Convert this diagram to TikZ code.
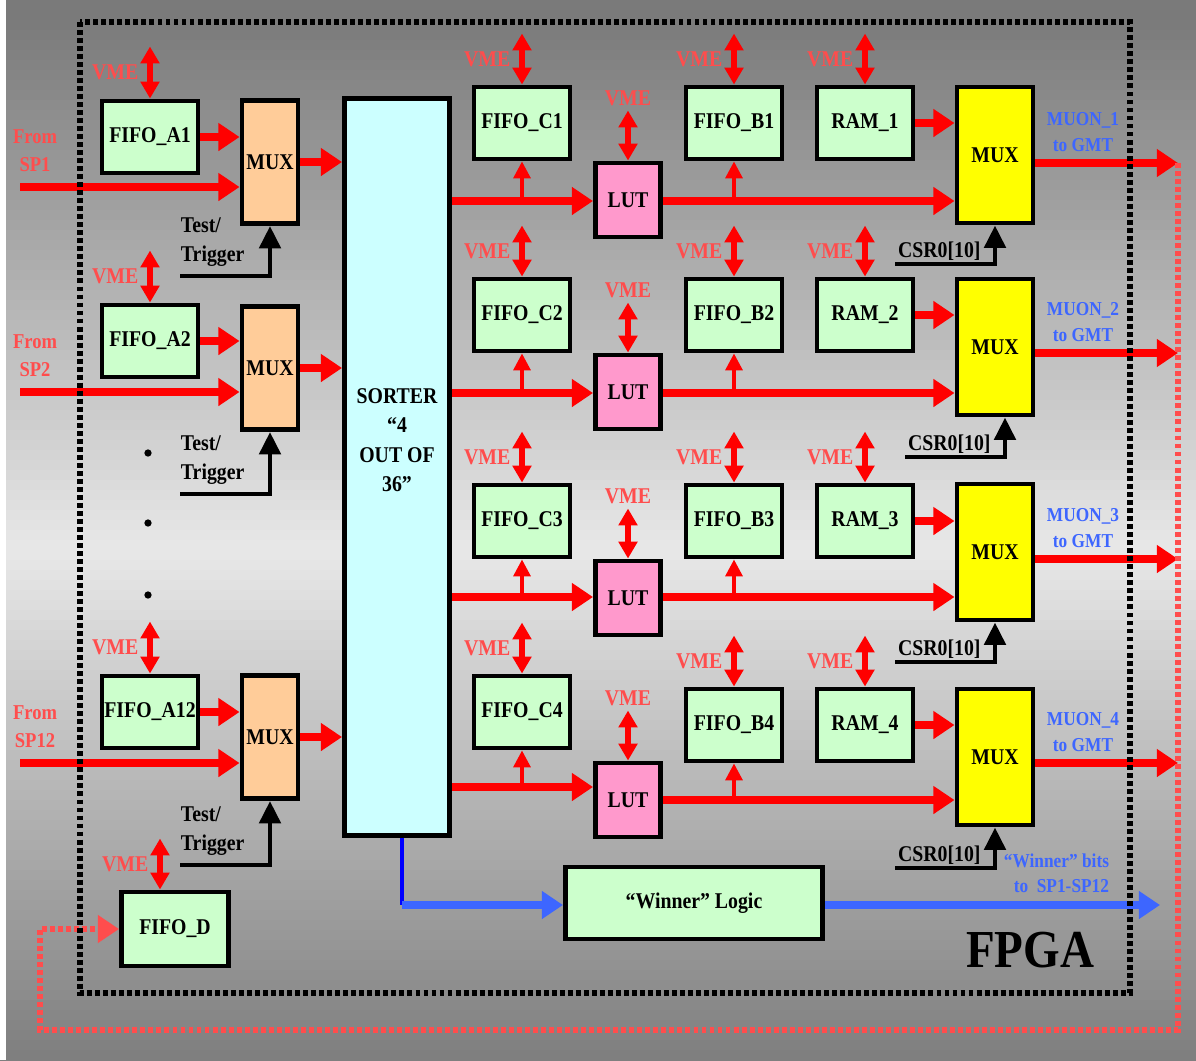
\documentclass[tikz,border=0pt]{standalone}
\usepackage{fontspec}
\setmainfont{Liberation Serif}[FakeStretch=0.88]
\usepackage{tikz}
\usetikzlibrary{arrows.meta}
\definecolor{bgdark}{HTML}{7A7A7A}
\definecolor{bglight}{HTML}{E8E8E8}
\definecolor{fifogreen}{HTML}{CCFFCC}
\definecolor{muxorange}{HTML}{FFCC99}
\definecolor{sortcyan}{HTML}{CCFFFF}
\definecolor{lutpink}{HTML}{FF99CC}
\definecolor{muxyellow}{HTML}{FFFF00}
\definecolor{vmered}{HTML}{FF4D4D}
\definecolor{gmtblue}{HTML}{3D66FF}
\definecolor{sortblue}{HTML}{0000FF}

\tikzset{
  blk/.style={draw,line width=3.5pt,inner sep=0pt,align=center,font=\bfseries\fontsize{16}{21}\selectfont},
  fifo/.style={blk,fill=fifogreen,minimum width=2.4cm,minimum height=1.8cm},
  muxa/.style={blk,fill=muxorange,minimum width=1.4cm,minimum height=3.075cm},
  muxb/.style={blk,fill=muxyellow,minimum width=1.9cm,minimum height=3.4cm},
  lut/.style={blk,fill=lutpink,minimum width=1.625cm,minimum height=1.85cm},
  data/.style={red,line width=5pt,-{Triangle[length=15pt,width=19pt]}},
  branch/.style={red,line width=2.5pt,-{Triangle[length=12pt,width=12pt]}},
  vme/.style={red,line width=4pt,{Triangle[length=12pt,width=13pt]}-{Triangle[length=12pt,width=13pt]}},
  vmetxt/.style={text=vmered,font=\bfseries\fontsize{16}{21}\selectfont},
  ctrl/.style={black,line width=3.5pt,-{Triangle[length=16pt,width=15pt]}},
  plain/.style={font=\bfseries\fontsize{16}{21}\selectfont,align=left},
  gmttxt/.style={text=gmtblue,align=center,font=\bfseries\fontsize{14}{18}\selectfont},
  blueout/.style={gmtblue,line width=5pt,-{Triangle[length=15pt,width=19pt]}},
  fpgabox/.style={black,line width=4pt,dash pattern=on 3.5pt off 2.2pt},
  feedback/.style={vmered,line width=3.6pt,dash pattern=on 3.5pt off 2.2pt,-{Triangle[length=15pt,width=19pt]}}
}

\begin{document}
\begin{tikzpicture}[x=0.025cm,y=-0.025cm]
  \useasboundingbox (0,0) rectangle (1196,1060);
  \foreach \k in {0,...,105} {
    \pgfmathsetmacro\mix{max(0,100-abs(\k*10+5-550)/5.3)}
    \fill[bglight!\mix!bgdark] (0,\k*10) rectangle (1196,\k*10+10.6);
  }
  \fill[white] (0,0) rectangle (6,1060);

  \node[blk,fill=sortcyan,minimum width=2.625cm,minimum height=18.4cm] (sorter) at (397,467) {};
  \node[plain,align=center] (sortlbl) at (397,440) {SORTER\\“4\\OUT OF\\36”};

  \foreach \j/\ya/\ym/\ys/\yt in {1/137/162/187/276, 2/341/368/392/494, 12/712/737/763/865} {
    \node[fifo] (fifoA\j) at (150,\ya) {FIFO\_A\j};
    \node[muxa] (muxA\j) at (270,\ym) {MUX};
    \coordinate (sp\j) at (20,\ys);
    \coordinate (tt\j) at (180,\yt);
    \node[vmetxt,align=center,font=\bfseries\fontsize{15}{20}\selectfont] (from\j) at (35,\ys-36) {From\\SP\j};
    \node[plain,anchor=west] (test\j) at (176,\yt-34) {Test/\\Trigger};
    \draw[data] (fifoA\j.east) -- (fifoA\j.east -| muxA\j.west);
    \draw[data] (sp\j) -- (sp\j -| muxA\j.west);
    \draw[data] (muxA\j.east) -- (muxA\j.east -| sorter.west);
    \draw[ctrl] (tt\j) -| (muxA\j.south);
    \draw[vme] (fifoA\j.north) -- ++(0,-52) node[vmetxt,midway,left=3pt] {VME};
  }
  \foreach \y in {453,523,595}
    \fill (148,\y) circle (2.6pt);

  \node[fifo,minimum width=2.675cm,minimum height=1.85cm] (fifoD) at (175,929) {FIFO\_D};
  \draw[vme] ([xshift=-0.375cm]fifoD.north) -- ++(0,-51) node[vmetxt,midway,left=3pt] {VME};

  \foreach \r/\yc/\yl/\yb/\ym/\yd/\ye/\yo/\yk/\dx in {1/123/200/123/155/201/201/163/264/0, 2/315/392/315/347/393/393/353/457/10, 3/521/598/521/552/597/597/559/662/0, 4/712/800/725/757/787/800/763/868/0} {
    \node[fifo] (fifoC\r) at (522,\yc) {FIFO\_C\r};
    \node[lut] (lut\r) at (628,\yl) {LUT};
    \node[fifo] (fifoB\r) at (734,\yb) {FIFO\_B\r};
    \node[fifo] (ram\r) at (865,\yb) {RAM\_\r};
    \node[muxb] (mux\r) at (995,\ym) {MUX};
    \coordinate (d\r) at (500,\yd);
    \coordinate (e\r) at (800,\ye);
    \coordinate (o\r) at (1178,\yo);
    \coordinate (c\r) at (895+\dx,\yk);
    \draw[data] (d\r -| sorter.east) -- (d\r -| lut\r.west);
    \draw[branch] (fifoC\r.south |- d\r) -- (fifoC\r.south);
    \draw[data] (e\r -| lut\r.east) -- (e\r -| mux\r.west);
    \draw[branch] (fifoB\r.south |- e\r) -- (fifoB\r.south);
    \draw[data] (ram\r.east) -- (ram\r.east -| mux\r.west);
    \draw[data] (o\r -| mux\r.east) -- (o\r);
    \node[gmttxt] (muon\r) at (1083,\yo-31) {MUON\_\r\\to GMT};
    \draw[ctrl] (c\r) -| ([xshift=\dx*0.025cm]mux\r.south);
    \node[plain,anchor=south west,inner sep=2pt] (csr\r) at (c\r) {CSR0[10]};
    \foreach \n in {fifoC\r,fifoB\r,ram\r}
      \draw[vme] (\n.north) -- ++(0,-51) node[vmetxt,midway,left=3pt] {VME};
    \draw[vme] (lut\r.north) -- ++(0,-50) node[vmetxt,above=-2pt] {VME};
  }

  \node[blk,fill=fifogreen,minimum width=6.425cm,minimum height=1.8cm] (winner) at (694,903) {“Winner” Logic};
  \coordinate (wc) at (402,905);
  \coordinate (wo) at (1160,905);
  \draw[sortblue,line width=2.5pt] (wc |- sorter.south) -- (wc);
  \draw[blueout] (wc) -- (wc -| winner.west);
  \draw[blueout] (wo -| winner.east) -- (wo);
  \node[gmttxt,align=right,anchor=east] (winbits) at (1114,873) {“Winner” bits\\to\ \ SP1-SP12};

  \coordinate (fb) at (40,1030);
  \draw[feedback] (o1) |- (fb) |- (fifoD.west);

  \draw[fpgabox] (80,22) rectangle (1130,993);
  \node[font=\bfseries\fontsize{38}{38}\selectfont] (fpga) at (1030,950) {FPGA};
\end{tikzpicture}
\end{document}
